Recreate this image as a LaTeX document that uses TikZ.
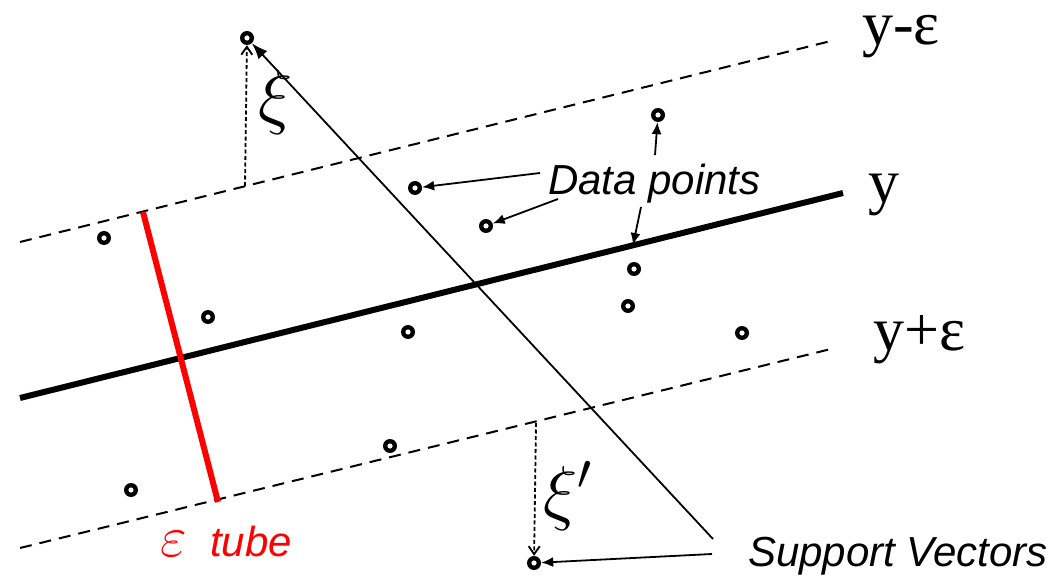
\RequirePackage{fix-cm}
\documentclass[tikz,border=0pt]{standalone}
\usepackage{fontspec}
\setmainfont{Liberation Serif}
\setsansfont{Liberation Sans}
\usetikzlibrary{arrows.meta, positioning}
\def\ringSize{14pt}
\def\bandFont{\rmfamily\fontsize{62}{62}\selectfont}
\def\slackFont{\fontsize{72}{72}\selectfont}
\def\tagFont{\sffamily\itshape\fontsize{42}{42}\selectfont}

\begin{document}
\begin{tikzpicture}[
    x=1pt, y=-1pt,
    >={Latex[length=12pt,width=10pt]},
    dot/.style={circle, fill=black, minimum size=\ringSize, inner sep=0pt,
        path picture={\fill[white] (path picture bounding box.center) circle[radius=2.6pt];}},
    band/.style={line width=2pt, dash pattern=on 12pt off 8pt},
    slack/.style={line width=1.8pt, dash pattern=on 4pt off 2.5pt,
        -{Straight Barb[length=8pt,width=11pt,line width=1.8pt]}},
    pointer/.style={line width=1.8pt, ->},
    tag/.style={anchor=base west, inner sep=0pt, font=\tagFont}
]
\useasboundingbox (0,0) rectangle (1054,577);

% tube borders and regression line
\coordinate (upL) at (20,242);
\coordinate (upR) at (835,40);
\coordinate (midL) at (20,398);
\coordinate (midR) at (843,193);
\coordinate (loL) at (20,548);
\coordinate (loR) at (835,348);
\draw[band] (upL) -- (upR);
\draw[band] (loL) -- (loR);
\draw[line width=6pt] (midL) -- (midR);

% epsilon tube width
\coordinate (tubeA) at (143,212);
\coordinate (tubeB) at (218,502);
\draw[red, line width=6pt] (tubeA) -- (tubeB);

% data points
\foreach \n/\x/\y in {d1/104/238, d2/415/188, d3/486/226, d4/658/115,
    d5/634/269, d6/628/306, d7/208/317, d8/408/332, d9/742/333,
    d10/390/446, d11/131/490, svTop/247/38, svBot/534/563}
    \node[dot] (\n) at (\x,\y) {};

% labels
\node[anchor=base west, inner sep=0pt, font=\bandFont] (lblUp) at (862,45) {y-ε};
\node[anchor=base west, inner sep=0pt, font=\bandFont] (lblMid) at (868,203) {y};
\node[anchor=base west, inner sep=0pt, font=\bandFont] (lblLo) at (873,350) {y+ε};
\node[tag] (lblData) at (548,195) {Data points};
\node[tag] (lblSV) at (748,566) {Support Vectors};
\node[tag, text=red] (lblTube) at (160,556) {{\fontsize{58}{58}\selectfont$\varepsilon$}\ \ tube};
\node[font=\slackFont, inner sep=0pt] (lblXi) at (276,103) {$\xi$};
\node[font=\slackFont, inner sep=0pt] (lblXiP) at (568,496) {$\xi'$};

% slack arrows
\coordinate (xiBase) at (245,186);
\coordinate (xiBaseP) at (536,423);
\draw[slack] (xiBase) -- (svTop);
\draw[slack] (xiBaseP) -- (svBot);

% pointers from the tags
\coordinate (dA) at (540,173);
\coordinate (dB) at (558,199);
\coordinate (dC) at (655,155);
\coordinate (dD) at (641,207);
\coordinate (onMid) at (633,245);
\draw[pointer] (dA) -- (d2);
\draw[pointer] (dB) -- (d3);
\draw[pointer] (dC) -- (d4);
\draw[pointer] (dD) -- (onMid);
\coordinate (svA) at (713,539);
\coordinate (svB) at (712,554);
\draw[pointer, >={Latex[length=16pt,width=12pt]}] (svA) -- (svTop);
\draw[pointer] (svB) -- (svBot);
\end{tikzpicture}
\end{document}
